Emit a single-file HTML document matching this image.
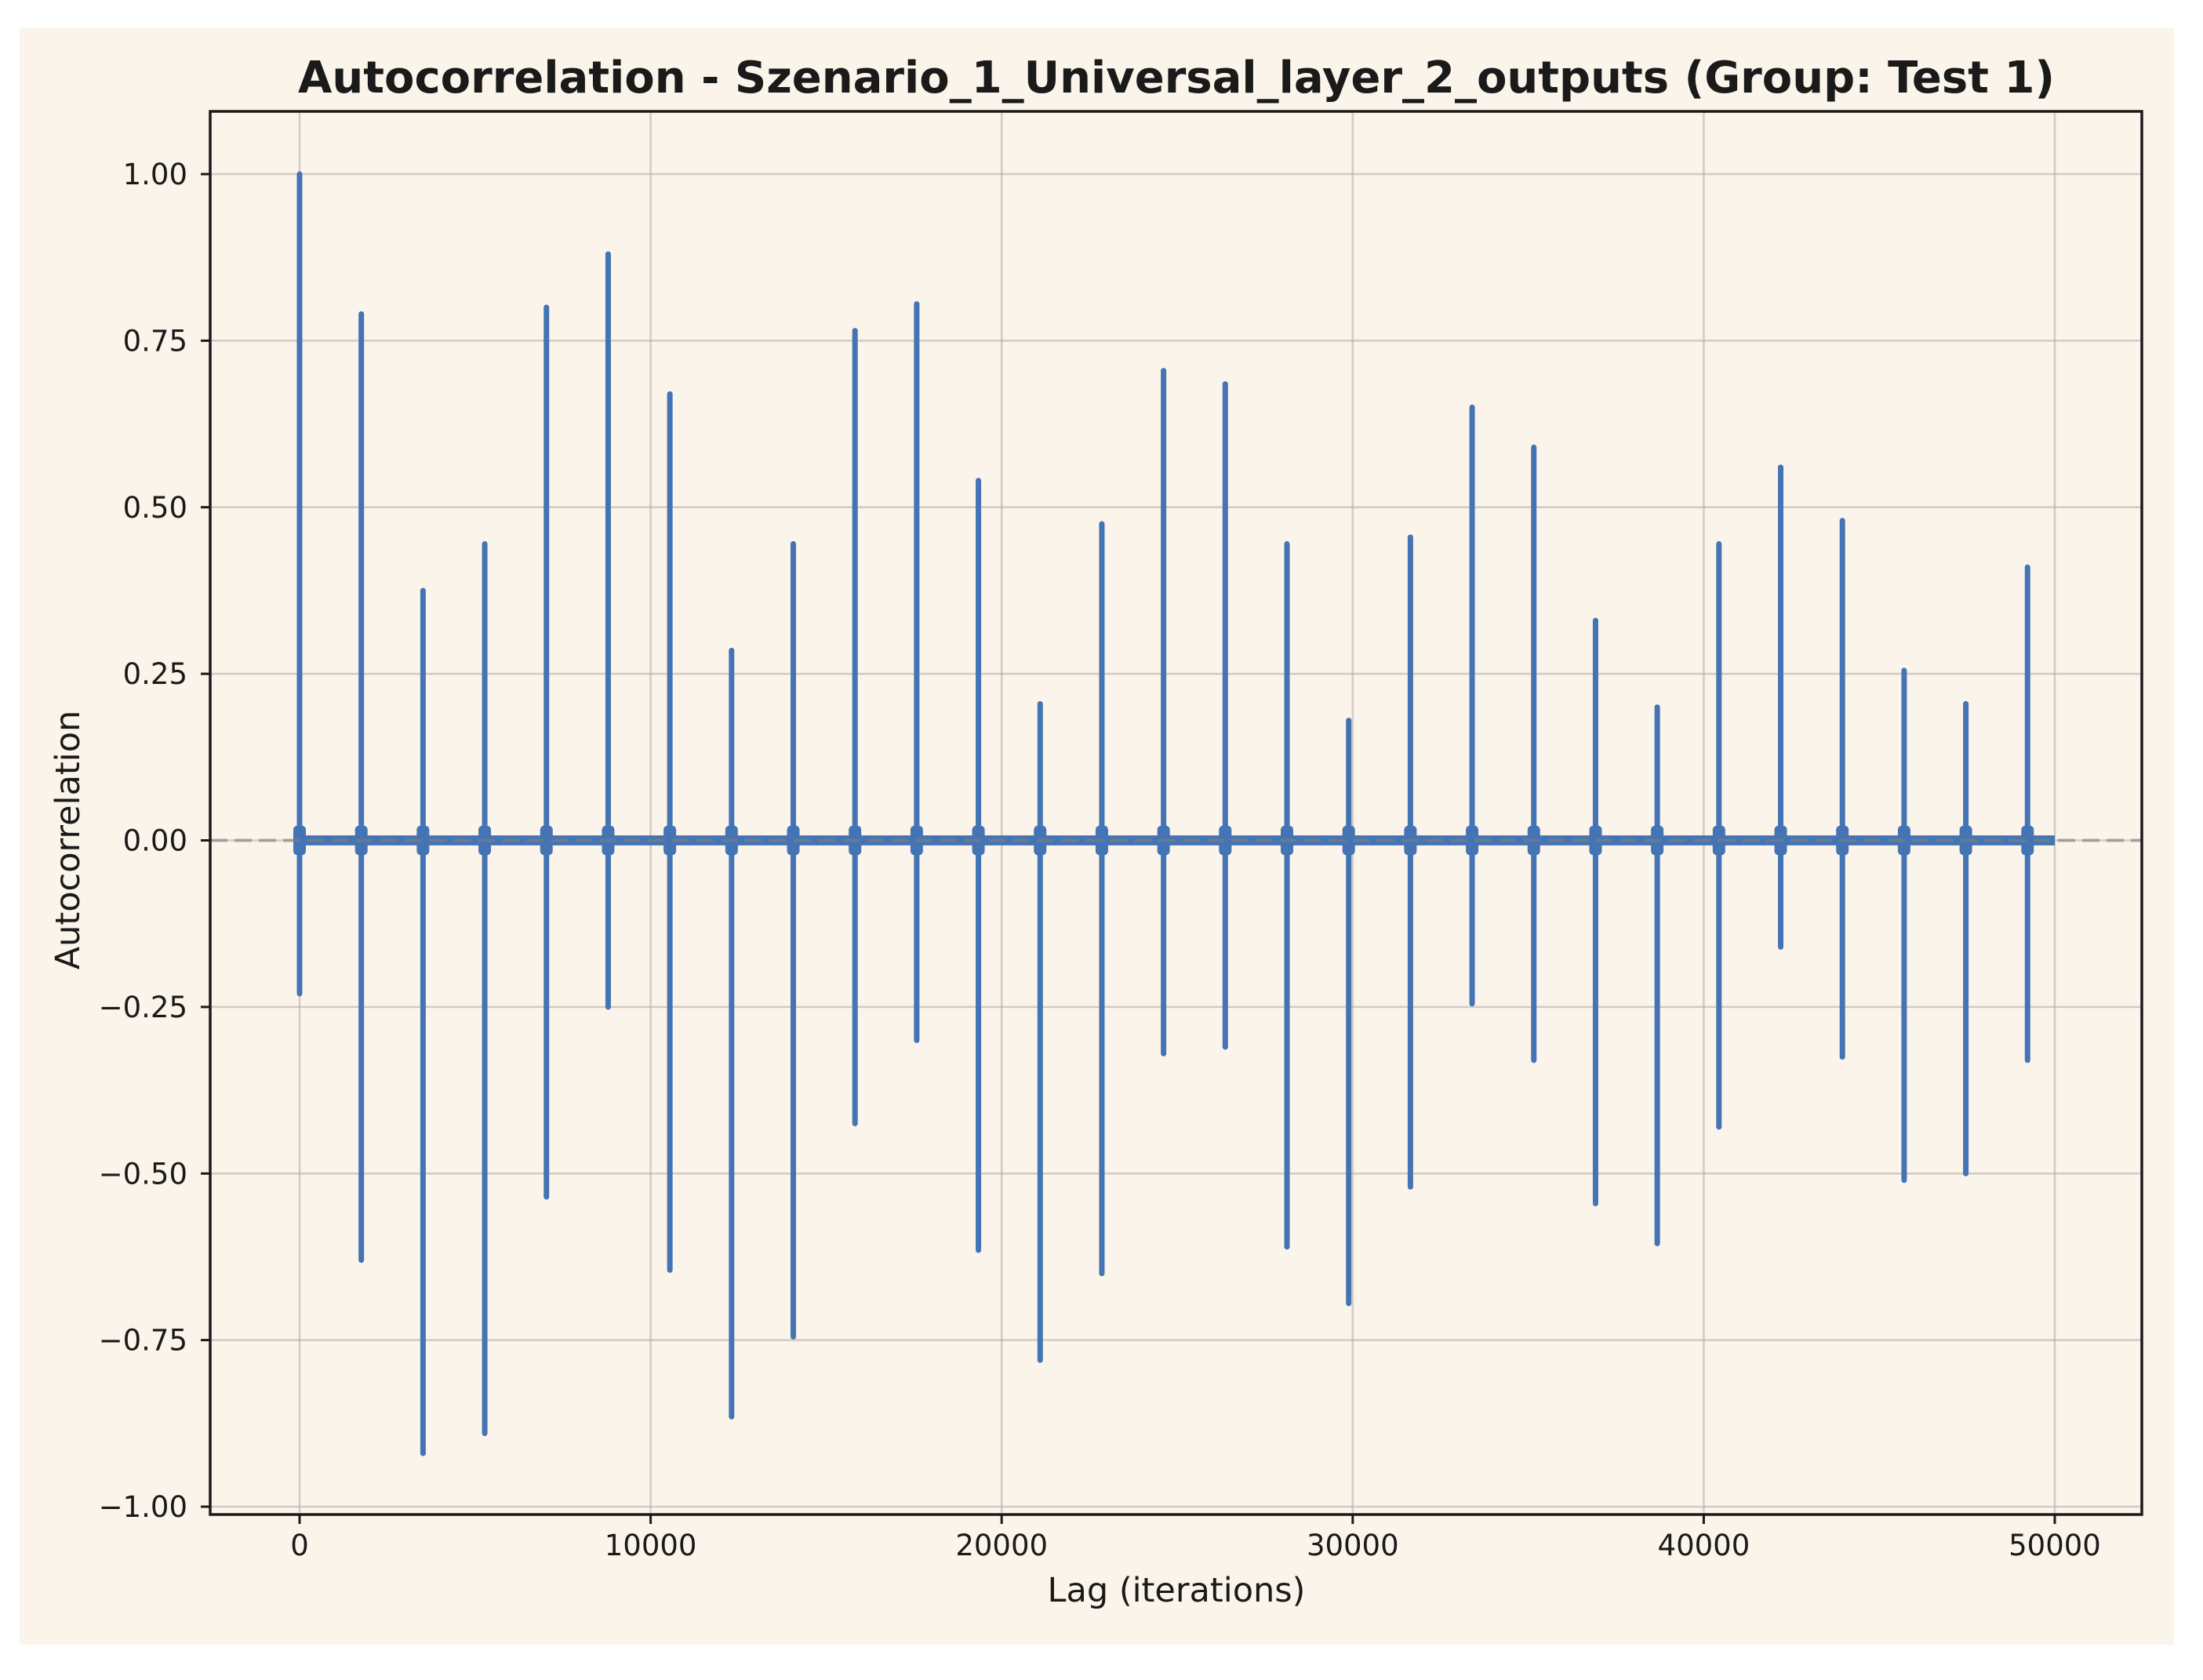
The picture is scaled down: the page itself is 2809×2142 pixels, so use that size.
<!DOCTYPE html>
<html><head><meta charset="utf-8"><style>
html,body{margin:0;padding:0;background:#fff;}
svg{display:block;font-family:"DejaVu Sans","Liberation Sans",sans-serif;}
</style></head><body>
<svg id="chart" width="2809" height="2142" viewBox="0 0 2809 2142" xmlns="http://www.w3.org/2000/svg">
<rect x="25" y="36" width="2747" height="2061" fill="#fbf4ea"/>
<g id="grid"></g>
<g id="series"></g>
<line id="zeroline" stroke="#7f7f7f" stroke-opacity="0.6" stroke-width="4" stroke-dasharray="22,9"/>
<rect x="268" y="142" width="2463" height="1789" fill="none" stroke="#1a1a1a" stroke-width="3.5"/>
<g id="ticks"></g>
<text x="1500" y="118" text-anchor="middle" font-size="56" font-weight="bold" fill="#1a1a1a">Autocorrelation - Szenario_1_Universal_layer_2_outputs (Group: Test 1)</text>
<text x="1500" y="2042" text-anchor="middle" font-size="43" fill="#1a1a1a">Lag (iterations)</text>
<text transform="translate(101,1071) rotate(-90)" text-anchor="middle" font-size="43" fill="#1a1a1a">Autocorrelation</text>
</svg>
<script>
const xTicks = [0, 10000, 20000, 30000, 40000, 50000];
const yTicks = [-1.0, -0.75, -0.5, -0.25, 0, 0.25, 0.5, 0.75, 1.0];
const yTickLabels = ["\u22121.00","\u22120.75","\u22120.50","\u22120.25","0.00","0.25","0.50","0.75","1.00"];
const spikeLags = [0,1758,3516,5274,7032,8790,10548,12306,14064,15822,17580,19338,21096,22854,24612,26370,28128,29886,31644,33402,35160,36918,38676,40434,42192,43950,45708,47466,49224];
const spikeMax = [1.00,0.79,0.375,0.445,0.80,0.88,0.67,0.285,0.445,0.765,0.805,0.54,0.205,0.475,0.705,0.685,0.445,0.18,0.455,0.65,0.59,0.33,0.20,0.445,0.56,0.48,0.255,0.205,0.41];
const spikeMin = [-0.23,-0.63,-0.92,-0.89,-0.535,-0.25,-0.645,-0.865,-0.745,-0.425,-0.30,-0.615,-0.78,-0.65,-0.32,-0.31,-0.61,-0.695,-0.52,-0.245,-0.33,-0.545,-0.605,-0.43,-0.16,-0.325,-0.51,-0.50,-0.33];
const maxLag = 50000;
const noiseAmp = 0.0075;

const NS = "http://www.w3.org/2000/svg";
const X0 = 382, X1 = 2620, Y1 = 222, Ym1 = 1921;
const L = 268, R = 2731, T = 142, B = 1931;
function xs(v){ return X0 + (v / 50000) * (X1 - X0); }
function ys(v){ return (Y1 + Ym1) / 2 - v * (Ym1 - Y1) / 2; }
function mk(tag, attrs, parent){ const e = document.createElementNS(NS, tag); for (const k in attrs) e.setAttribute(k, attrs[k]); parent.appendChild(e); return e; }

const grid = document.getElementById('grid');
const ticks = document.getElementById('ticks');
xTicks.forEach(function(t){
  const g = mk('line', {x1: xs(t), x2: xs(t), y1: T, y2: B, stroke: '#b0aaa3', 'stroke-opacity': 0.55, 'stroke-width': 2.5}, grid);
  
  
  const tk = mk('line', {x1: xs(t), x2: xs(t), y1: B, y2: B + 12, stroke: '#1a1a1a', 'stroke-width': 3}, ticks);
  
  
  const lb = mk('text', {x: xs(t), y: 1983, 'text-anchor': 'middle', 'font-size': 37, fill: '#1a1a1a'}, ticks);
  lb.textContent = String(t);
  
  
});
yTicks.forEach(function(t, i){
  const g = mk('line', {x1: L, x2: R, y1: ys(t), y2: ys(t), stroke: '#b0aaa3', 'stroke-opacity': 0.55, 'stroke-width': 2.5}, grid);
  
  
  const tk = mk('line', {x1: L - 12, x2: L, y1: ys(t), y2: ys(t), stroke: '#1a1a1a', 'stroke-width': 3}, ticks);
  
  
  const lb = mk('text', {x: 239, y: ys(t) + 13, 'text-anchor': 'end', 'font-size': 37, fill: '#1a1a1a'}, ticks);
  lb.textContent = yTickLabels[i];
  
  
});

const series = document.getElementById('series');
const color = '#4474b4';
const band = mk('rect', {x: xs(0), y: ys(noiseAmp), width: xs(maxLag) - xs(0), height: ys(-noiseAmp) - ys(noiseAmp), fill: color}, series);


spikeLags.forEach(function(lag, i){
  const cx = xs(lag);
  const bump = mk('rect', {x: cx - 8, y: ys(0.022), width: 16, height: ys(-0.022) - ys(0.022), rx: 5, fill: color}, series);
  
  
  const s = mk('line', {x1: cx, x2: cx, y1: ys(spikeMax[i]), y2: ys(spikeMin[i]), stroke: color, 'stroke-width': 7, 'stroke-linecap': 'round'}, series);
  
  
});
const z = document.getElementById('zeroline');
z.setAttribute('x1', L); z.setAttribute('x2', R); z.setAttribute('y1', ys(0)); z.setAttribute('y2', ys(0));
</script>
</body></html>
